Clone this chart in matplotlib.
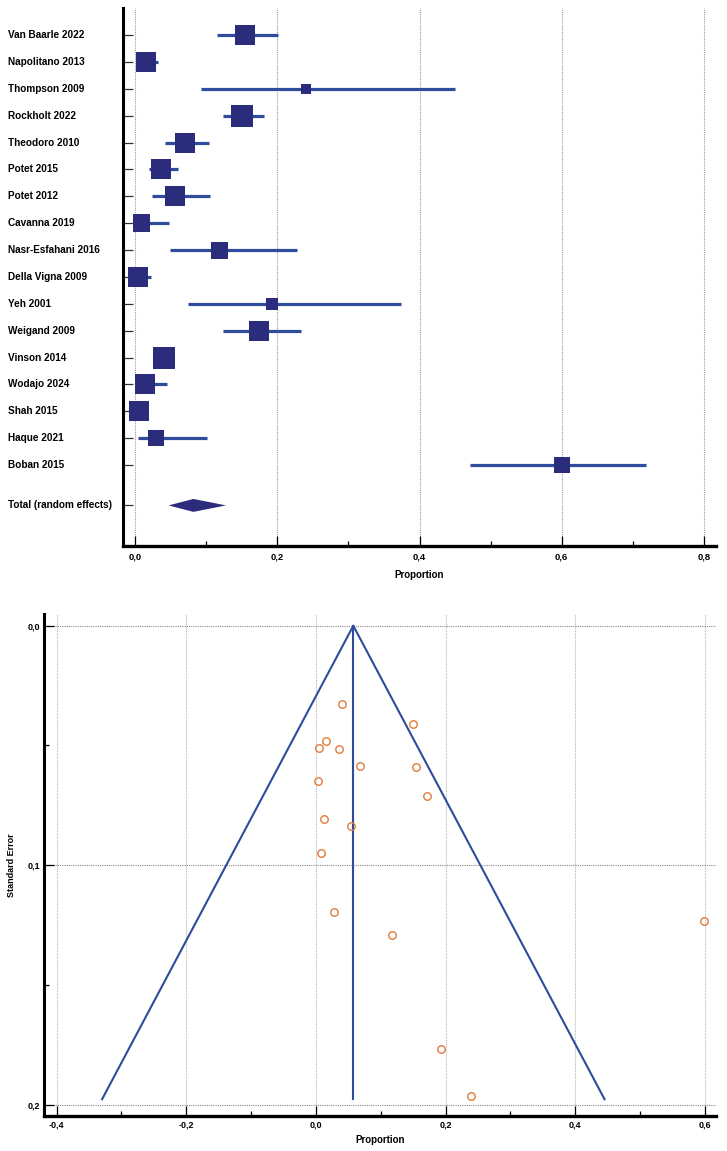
import matplotlib
matplotlib.use("Agg")
import matplotlib.pyplot as plt
import numpy as np
from matplotlib.transforms import blended_transform_factory
from matplotlib.ticker import FixedLocator
from matplotlib.patches import Polygon

plt.rcParams['font.family'] = ['Liberation Sans', 'DejaVu Sans']

# ---------------- data ----------------
studies = ["Van Baarle 2022", "Napolitano 2013", "Thompson 2009", "Rockholt 2022",
           "Theodoro 2010", "Potet 2015", "Potet 2012", "Cavanna 2019",
           "Nasr-Esfahani 2016", "Della Vigna 2009", "Yeh 2001", "Weigand 2009",
           "Vinson 2014", "Wodajo 2024", "Shah 2015", "Haque 2021", "Boban 2015"]
proportion = [0.155, 0.016, 0.240, 0.151, 0.070, 0.037, 0.056, 0.009,
              0.119, 0.004, 0.193, 0.174, 0.041, 0.014, 0.006, 0.029, 0.600]
ci_low = [0.115, 0.006, 0.093, 0.123, 0.042, 0.020, 0.024, 0.002,
          0.049, 0.000, 0.074, 0.123, 0.029, 0.003, 0.001, 0.004, 0.471]
ci_high = [0.201, 0.032, 0.450, 0.181, 0.104, 0.061, 0.106, 0.048,
           0.228, 0.022, 0.374, 0.233, 0.054, 0.045, 0.017, 0.101, 0.718]
weight = [6.7, 6.7, 1.7, 8.1, 6.7, 6.7, 6.7, 5.4,
          4.9, 6.7, 2.4, 6.7, 8.1, 6.7, 6.7, 4.3, 4.3]
total_label = "Total (random effects)"
total_est = 0.082
total_low = 0.047
total_high = 0.128

funnel_x = [0.1537, 0.0154, 0.2395, 0.149, 0.0684, 0.0360, 0.0545, 0.0077,
            0.1177, 0.0031, 0.1928, 0.172, 0.0396, 0.0128, 0.0046, 0.0278, 0.599]
funnel_se = [0.0590, 0.0483, 0.1962, 0.0412, 0.0587, 0.0516, 0.0835, 0.0948,
             0.1291, 0.0647, 0.1769, 0.0712, 0.0327, 0.0808, 0.0512, 0.1195, 0.1233]
funnel_center = 0.0576
funnel_se_max = 0.1977

forest_ticks = [0.0, 0.2, 0.4, 0.6, 0.8]
forest_tick_labels = ["0,0", "0,2", "0,4", "0,6", "0,8"]
funnel_xticks = [-0.4, -0.2, 0.0, 0.2, 0.4, 0.6]
funnel_xtick_labels = ["-0,4", "-0,2", "0,0", "0,2", "0,4", "0,6"]
funnel_yticks = [0.0, 0.1, 0.2]
funnel_ytick_labels = ["0,0", "0,1", "0,2"]

# ---------------- styles ----------------
SQ_COLOR = "#2B2C7C"
LINE_COLOR = "#2F4B9B"
ORANGE = "#E07B39"
W, H = 727, 1151
fig = plt.figure(figsize=(W / 100, H / 100), dpi=100)

# ---------------- forest plot ----------------
axf = fig.add_axes([123 / W, 1 - 546 / H, (716 - 123) / W, (546 - 8) / H])
n = len(studies)
rows = np.arange(n)
total_row = n + 0.5
axf.set_xlim(-0.017, 0.817)
axf.set_ylim(19.01, -1.005)

for x in forest_ticks:
    axf.axvline(x, color="#9a9a9a", lw=0.8, ls=(0, (1, 1)), zorder=0)

axf.hlines(rows, ci_low, ci_high, color=LINE_COLOR, lw=2.3, zorder=2)
side_pt = 20 * 0.72 * np.sqrt(np.array(weight) / 6.7)
axf.scatter(proportion, rows, marker="s", s=side_pt ** 2, color=SQ_COLOR,
            linewidths=0, zorder=3)
half_h = 0.24
diamond = Polygon([[total_low, total_row], [total_est, total_row - half_h],
                   [total_high, total_row], [total_est, total_row + half_h]],
                  closed=True, color=SQ_COLOR, lw=0, zorder=3)
axf.add_patch(diamond)

for s in ["top", "right"]:
    axf.spines[s].set_visible(False)
axf.spines["left"].set_linewidth(2.2)
axf.spines["bottom"].set_linewidth(2.4)

ytick_pos = list(rows) + [total_row]
axf.set_yticks(ytick_pos)
axf.set_yticklabels([])
axf.tick_params(axis="y", direction="in", length=7, width=0.9, color="#333333")
trans = blended_transform_factory(fig.transFigure, axf.transData)
for lab, y in zip(studies + [total_label], ytick_pos):
    axf.text(8 / W, y, lab, transform=trans, ha="left", va="center",
             fontsize=7.2, fontweight="bold")

axf.xaxis.set_major_locator(FixedLocator(forest_ticks))
axf.set_xticklabels(forest_tick_labels, fontsize=6.8, fontweight="bold")
axf.xaxis.set_minor_locator(FixedLocator([0.1, 0.3, 0.5, 0.7]))
axf.tick_params(axis="x", which="major", direction="in", length=7, width=0.9,
                pad=5)
axf.tick_params(axis="x", which="minor", direction="in", length=3.5, width=0.9)
axf.set_xlabel("Proportion", fontsize=7, fontweight="bold", labelpad=6)

# ---------------- funnel plot ----------------
axn = fig.add_axes([44.3 / W, 1 - 1116 / H, (716 - 44.3) / W, (1116 - 614) / H])
axn.set_xlim(-0.419, 0.617)
axn.set_ylim(0.2047, -0.0049)

for x in funnel_xticks:
    axn.axvline(x, color="#b5b5b5", lw=0.8, ls=(0, (1, 1)), zorder=0)
for y in funnel_yticks:
    axn.axhline(y, color="#8a8a8a", lw=0.8, ls=(0, (1, 1)), zorder=0)

z = 1.96
axn.plot([funnel_center - z * funnel_se_max, funnel_center,
          funnel_center + z * funnel_se_max],
         [funnel_se_max, 0, funnel_se_max], color=LINE_COLOR, lw=1.5, zorder=2)
axn.plot([funnel_center, funnel_center], [0, funnel_se_max], color=LINE_COLOR,
         lw=1.5, zorder=2)
axn.plot(funnel_x, funnel_se, ls="none", marker="o", ms=5.4, mfc="none",
         mec=ORANGE, mew=1.0, zorder=3)

for s in ["top", "right"]:
    axn.spines[s].set_visible(False)
axn.spines["left"].set_linewidth(2.2)
axn.spines["bottom"].set_linewidth(2.4)

axn.xaxis.set_major_locator(FixedLocator(funnel_xticks))
axn.set_xticklabels(funnel_xtick_labels, fontsize=6.5, fontweight="bold")
axn.xaxis.set_minor_locator(FixedLocator([-0.3, -0.1, 0.1, 0.3, 0.5]))
axn.yaxis.set_major_locator(FixedLocator(funnel_yticks))
axn.set_yticklabels(funnel_ytick_labels, fontsize=6.5, fontweight="bold")
axn.yaxis.set_minor_locator(FixedLocator([0.05, 0.15]))
axn.tick_params(which="major", direction="in", length=7, width=0.9, pad=3)
axn.tick_params(which="minor", direction="in", length=3.5, width=0.9)
axn.set_xlabel("Proportion", fontsize=7, fontweight="bold", labelpad=4)
axn.set_ylabel("Standard Error", fontsize=6.5, fontweight="bold", labelpad=8)

fig.savefig("out.png", dpi=100)
